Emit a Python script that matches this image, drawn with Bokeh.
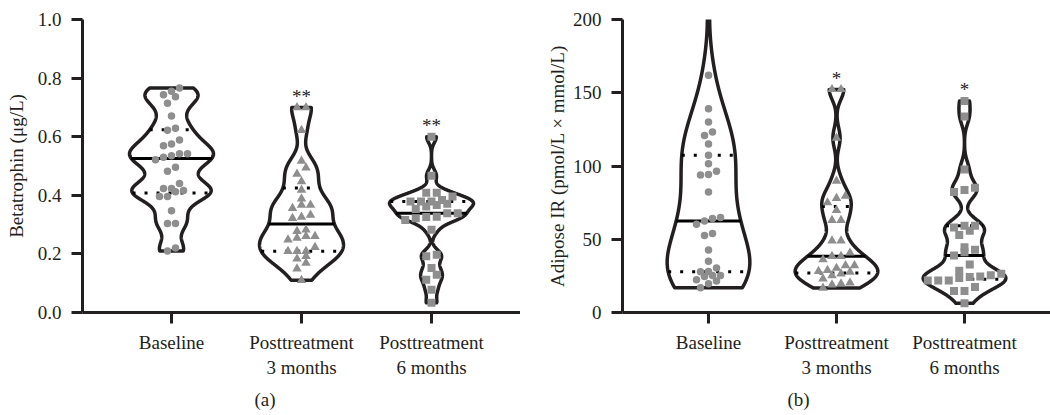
import numpy as np
from bokeh.plotting import figure
from bokeh.layouts import row
from bokeh.models import Range1d, FixedTicker, Title, PrintfTickFormatter
from bokeh.core.properties import value
from bokeh.embed import file_html
from bokeh.resources import INLINE

# ---------------- data ----------------
categories = ["Baseline", "Posttreatment\n3 months", "Posttreatment\n6 months"]

beta_baseline = [0.766, 0.755, 0.743, 0.736, 0.714, 0.671, 0.629, 0.622, 0.589, 0.575,
                 0.569, 0.542, 0.542, 0.535, 0.530, 0.521, 0.496, 0.482, 0.440, 0.423,
                 0.423, 0.416, 0.412, 0.396, 0.396, 0.347, 0.304, 0.304, 0.220, 0.210]
beta_3m = [0.700, 0.700, 0.622, 0.517, 0.494, 0.473, 0.447, 0.418, 0.388, 0.367,
           0.367, 0.356, 0.333, 0.326, 0.322, 0.282, 0.277, 0.260, 0.260, 0.254,
           0.248, 0.223, 0.209, 0.209, 0.209, 0.192, 0.183, 0.169, 0.149, 0.110]
beta_6m = [0.600, 0.467, 0.409, 0.409, 0.396, 0.384, 0.379, 0.379, 0.379, 0.371,
           0.367, 0.362, 0.353, 0.339, 0.339, 0.327, 0.326, 0.322, 0.316, 0.282,
           0.197, 0.192, 0.152, 0.129, 0.112, 0.078, 0.033]

adipo_baseline = [240, 162, 139, 130, 123.2, 120.9, 115, 107.3, 101.5, 96.5, 94.2, 93.8,
                  82.2, 64.8, 64.1, 62.5, 60.3, 54, 52.5, 42.7, 35, 30.3, 28, 27.8,
                  25.3, 25.3, 24.6, 22.4, 21.5, 19.6, 16.9]
adipo_3m = [152.3, 152.3, 119.1, 89.7, 79.5, 78, 75, 69.8, 63, 63, 49, 49, 40.7, 38.4,
            38.4, 36.1, 32.1, 32.1, 30.3, 28.9, 28.2, 27.6, 26.4, 25.3, 23, 20.3, 19.6,
            19, 16.7]
adipo_6m = [144.4, 133.8, 97.6, 85.2, 83.6, 82.2, 59.2, 59.2, 58.1, 55.8, 52.9, 44.5,
            42.9, 41.2, 38.9, 32.7, 28.5, 26.4, 25.5, 24.6, 24.2, 23.5, 21.9, 21.9, 21.9,
            17.4, 14.6, 14.6, 6.3]

beta_sig = ["", "**", "**"]
adipo_sig = ["", "*", "*"]

beta_ticks = [0.0, 0.2, 0.4, 0.6, 0.8, 1.0]
adipo_ticks = [0, 50, 100, 150, 200]

# ---------------- style ----------------
DARK = "#231f20"
GRAY = "#8e8e8e"
FONT = "Liberation Serif"
FS = "19px"
MARKERS = ["circle", "triangle", "square"]
MSIZE = [7.5, 9.5, 8]
MSPACE = [8.0, 9.0, 10.5]
HALF_MAX = 0.323


def kde_profile(vals, h, lo, hi):
    v = np.asarray(vals, dtype=float)
    grid = np.linspace(lo, hi, 500)
    dens = np.exp(-0.5 * ((grid[:, None] - v[None, :]) / h) ** 2).sum(axis=1)
    return grid, HALF_MAX * dens / dens.max()


def swarm(vals, ypx, xpx, spacing, binpx):
    v = np.asarray(vals, dtype=float)
    yp = v * ypx
    order = np.argsort(yp)
    off = np.zeros(len(v))
    bins, cur, start = [], [order[0]], yp[order[0]]
    for idx in order[1:]:
        if yp[idx] - start < binpx:
            cur.append(idx)
        else:
            bins.append(cur)
            cur, start = [idx], yp[idx]
    bins.append(cur)
    for b in bins:
        n = len(b)
        for k, idx in enumerate(b):
            off[idx] = (k - (n - 1) / 2) * spacing / xpx
    return off


def style_axes(p):
    for ax in (p.xaxis[0], p.yaxis[0]):
        ax.axis_line_width = 3
        ax.axis_line_color = DARK
        ax.major_tick_line_width = 3
        ax.major_tick_line_color = DARK
        ax.major_tick_out = 11
        ax.major_tick_in = 0
        ax.minor_tick_line_color = None
        ax.major_label_text_font = FONT
        ax.major_label_text_font_size = FS
        ax.major_label_text_color = DARK
        ax.axis_label_text_font = FONT
        ax.axis_label_text_font_size = FS
        ax.axis_label_text_font_style = "normal"
        ax.axis_label_text_color = DARK
    p.xgrid.visible = False
    p.ygrid.visible = False
    p.outline_line_color = None


def panel(series, sig, ylabel, ticks, ymax, width, left, xpx, ypx, bws, caption, cap_off,
          fmt=None, label_standoff=10):
    frame_w = width - left
    xstart = -(frame_w - 2 * xpx) / 2 / xpx
    p = figure(width=width, height=415, x_range=Range1d(xstart, 2 - xstart),
               y_range=Range1d(0, ymax), output_backend="svg", toolbar_location=None,
               min_border_left=left, min_border_right=0, min_border_top=19,
               min_border_bottom=102, background_fill_color="white",
               border_fill_color="white")
    style_axes(p)
    p.xaxis.ticker = FixedTicker(ticks=[0, 1, 2])
    p.xaxis.major_label_overrides = {i: c for i, c in enumerate(categories)}
    p.xaxis.major_label_standoff = 8
    p.yaxis.ticker = FixedTicker(ticks=ticks)
    if fmt:
        p.yaxis.formatter = PrintfTickFormatter(format=fmt)
    p.yaxis.major_label_standoff = 10
    p.yaxis.axis_label = ylabel
    p.yaxis.axis_label_standoff = label_standoff

    for i, vals in enumerate(series):
        v = np.asarray(vals, dtype=float)
        grid, hw = kde_profile(v, bws[i], v.min(), v.max())
        xs = np.concatenate([i - hw, (i + hw)[::-1]])
        ys = np.concatenate([grid, grid[::-1]])
        p.patch(xs, ys, fill_alpha=0, line_color=DARK, line_width=3.5, line_join="round")
        q1, med, q3 = np.percentile(v, [25, 50, 75], method="weibull")
        for q, dash in ((q1, "3 9"), (q3, "3 9"), (med, "solid")):
            w = np.interp(q, grid, hw)
            p.segment(x0=[i - w], x1=[i + w], y0=[q], y1=[q], line_color="black",
                      line_width=3, line_dash=dash)
        off = swarm(v, ypx, xpx, MSPACE[i], 7.0)
        p.scatter(x=i + off, y=v, marker=MARKERS[i], size=MSIZE[i], fill_color=GRAY,
                  line_color=None)
    sx = [i for i in range(3) if sig[i]]
    p.text(x=sx, y=[max(series[i]) for i in sx], text=[sig[i] for i in sx],
           text_align="center", text_baseline="alphabetic", y_offset=-11,
           text_font=value(FONT), text_font_size=FS, text_color=DARK)
    p.add_layout(Title(text=caption, align="left", offset=cap_off, standoff=12,
                       text_font=FONT, text_font_size=FS, text_font_style="normal",
                       text_color=DARK), "below")
    return p


pa = panel([beta_baseline, beta_3m, beta_6m], beta_sig, "Betatrophin (μg/L)", beta_ticks,
           1.0, 520, 82, 130.0, 294.0, [0.033, 0.038, 0.02], "(a)", 172, fmt="%.1f",
           label_standoff=8)
pb = panel([adipo_baseline, adipo_3m, adipo_6m], adipo_sig,
           "Adipose IR (pmol/L × mmol/L)", adipo_ticks, 200, 530, 102, 128.0, 294.0 / 200,
           [21, 7, 6], "(b)", 165, label_standoff=2)

layout = row(pa, pb)
open("out.html", "w").write(file_html(layout, INLINE))
